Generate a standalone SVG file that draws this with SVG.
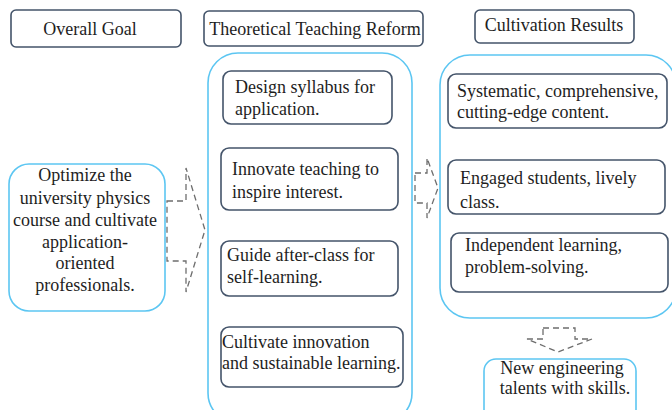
<svg xmlns="http://www.w3.org/2000/svg" width="672" height="410" viewBox="0 0 672 410">
  <style>
    text { font-family: "Liberation Serif", "Times New Roman", serif; font-size: 18px; fill: #1e1e1e; }
    .mid { text-anchor: middle; }
    .head { fill: #ffffff; stroke: #44546a; stroke-width: 1.6; }
    .item { fill: #ffffff; stroke: #44546a; stroke-width: 1.6; }
    .group { fill: #ffffff; stroke: #5cc6f2; stroke-width: 1.6; }
    .flow { fill: #ffffff; stroke: #6e6e6e; stroke-width: 1.3; stroke-dasharray: 6 4; }
  </style>
  <rect width="672" height="410" fill="#ffffff"/>

  <!-- column headers -->
  <g id="header-goal">
    <rect class="head" x="11" y="10" width="170" height="37" rx="5"/>
    <text class="mid" x="90" y="35">Overall Goal</text>
  </g>
  <g id="header-reform">
    <rect class="head" x="204" y="11" width="219" height="35" rx="5"/>
    <text class="mid" x="315" y="35">Theoretical Teaching Reform</text>
  </g>
  <g id="header-results">
    <rect class="head" x="475" y="10" width="159" height="33" rx="5"/>
    <text class="mid" x="554" y="31">Cultivation Results</text>
  </g>

  <!-- overall goal -->
  <g id="goal">
    <rect class="group" x="9" y="164" width="156" height="147" rx="20"/>
    <text class="mid" x="85" y="181">Optimize the</text>
    <text class="mid" x="85" y="204">university physics</text>
    <text class="mid" x="85" y="226">course and cultivate</text>
    <text class="mid" x="85" y="248">application-</text>
    <text class="mid" x="85" y="269">oriented</text>
    <text class="mid" x="85" y="291">professionals.</text>
  </g>

  <!-- teaching reform measures -->
  <g id="reform">
    <rect class="group" x="208" y="53" width="204" height="370" rx="30"/>
  </g>
  <g id="reform-syllabus">
    <rect class="item" x="223" y="71" width="169" height="53" rx="8"/>
    <text x="235" y="93">Design syllabus for</text>
    <text x="235" y="115">application.</text>
  </g>
  <g id="reform-teaching">
    <rect class="item" x="221" y="148" width="177" height="62" rx="8"/>
    <text x="232" y="175">Innovate teaching to</text>
    <text x="232" y="198">inspire interest.</text>
  </g>
  <g id="reform-afterclass">
    <rect class="item" x="221" y="241" width="177" height="55" rx="8"/>
    <text x="227" y="261">Guide after-class for</text>
    <text x="227" y="283">self-learning.</text>
  </g>
  <g id="reform-innovation">
    <rect class="item" x="221" y="327" width="182" height="60" rx="8"/>
    <text x="222" y="348">Cultivate innovation</text>
    <text x="222" y="369">and sustainable learning.</text>
  </g>

  <!-- cultivation results -->
  <g id="results">
    <rect class="group" x="440" y="55" width="236" height="263" rx="30"/>
  </g>
  <g id="result-content">
    <rect class="item" x="448" y="74" width="219" height="54" rx="8"/>
    <text x="457" y="97">Systematic, comprehensive,</text>
    <text x="457" y="118">cutting-edge content.</text>
  </g>
  <g id="result-students">
    <rect class="item" x="448" y="160" width="217" height="54" rx="8"/>
    <text x="460" y="184">Engaged students, lively</text>
    <text x="460" y="208">class.</text>
  </g>
  <g id="result-independent">
    <rect class="item" x="451" y="233" width="217" height="59" rx="8"/>
    <text x="465" y="251">Independent learning,</text>
    <text x="465" y="273">problem-solving.</text>
  </g>
  <g id="talents">
    <rect class="group" x="484" y="359" width="152" height="70" rx="12"/>
    <text class="mid" x="562" y="374">New engineering</text>
    <text class="mid" x="565" y="394">talents with skills.</text>
  </g>

  <!-- block arrows -->
  <g id="connectors">
    <polygon class="flow" points="167,201 186,201 186,168 205,230 186,292 186,261 167,261"/>
    <polygon class="flow" points="415,173 427,173 427,158 438,188 427,218 427,203 415,203"/>
    <polygon class="flow" points="543,328 575,328 575,339 592,339 558,352 527,339 543,339"/>
  </g>
</svg>
